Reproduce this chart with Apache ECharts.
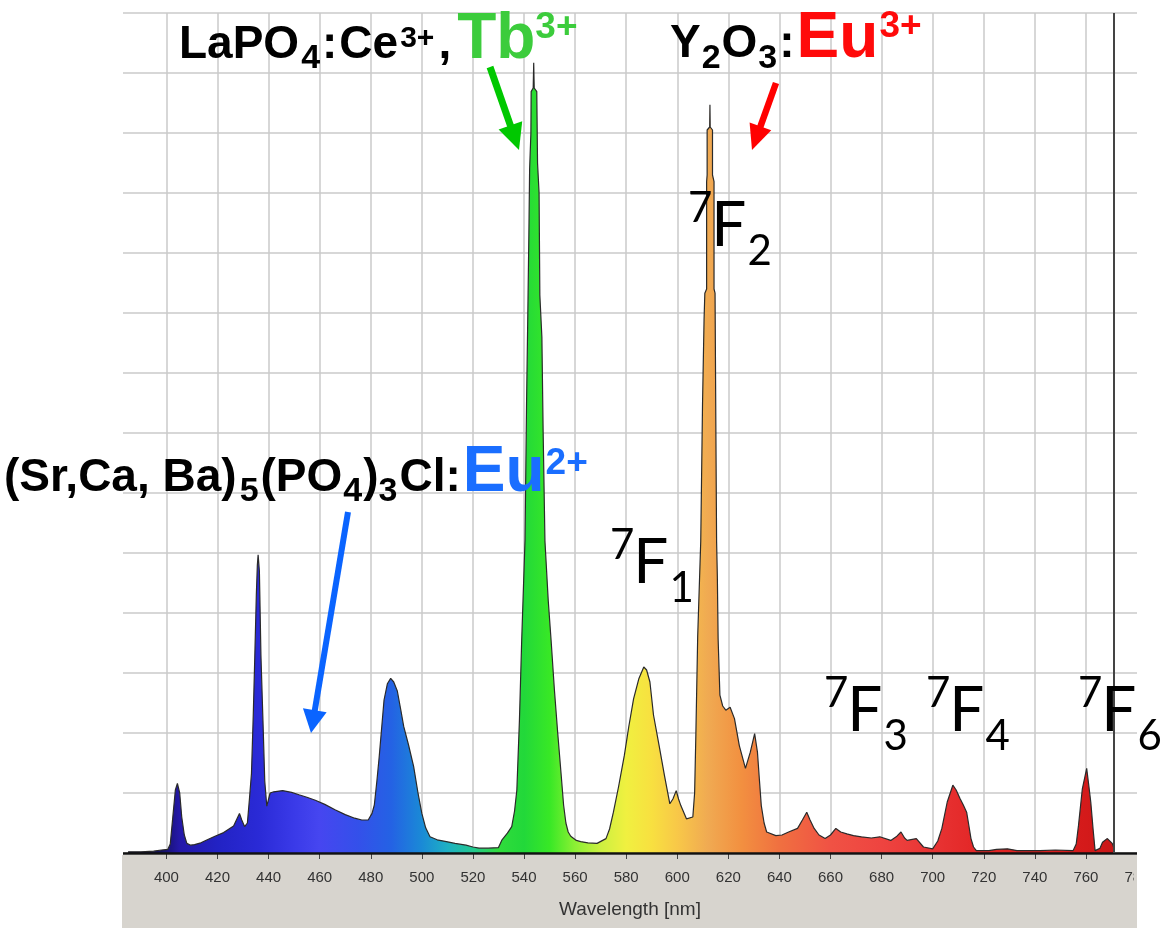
<!DOCTYPE html>
<html>
<head>
<meta charset="utf-8">
<script src="https://cdn.jsdelivr.net/npm/echarts@6/dist/echarts.min.js"></script>
<style>
  html, body { margin: 0; padding: 0; background: #ffffff; }
  #chart { width: 1162px; height: 928px; }
</style>
</head>
<body>
<div id="chart"></div>
<script>
// ---------------- DATA ----------------
// wavelength (nm)
const wavelengths = [
  385, 390, 395, 398, 400.5, 401.5, 402.5, 403.5, 404.3, 405.2, 406, 407, 408, 409.5, 411, 413.5, 416, 419, 422.4, 426.3,
  428.6, 429.5, 430.6, 431.7, 432.5, 433.3, 434.0, 434.6, 435.2, 435.6, 435.9, 436.4, 437.0, 437.8, 438.5, 439.3, 440.0, 440.6,
  442, 445.5, 449, 451.9, 455, 458.3, 462, 466, 470, 473.7, 476.5, 479, 480.5, 481.4, 482.4, 483.3, 484.3, 485.2, 486.5, 487.8,
  489, 490.4, 491.7, 492.9, 494.8, 496.8, 498.5, 500, 501.5, 503.2, 506, 509.6, 513, 517.3, 520, 522.4, 526, 530,
  531.4, 533.5, 535.2, 536.3, 537.2, 538.2, 539.1, 540.4, 541.0, 541.5, 541.9, 542.2, 542.7, 542.8, 543.6, 543.8, 544.0, 545.0,
  545.3, 545.9, 546.2, 547.0, 547.5, 548.2, 549.5, 550.6, 551.9, 553.2, 554.5, 555.5, 556.4, 557.3, 558.3, 560.5, 562.2, 565,
  568.6, 572.1, 573.5, 575, 577, 579.3, 581, 582.9, 585, 586.9, 588, 589.3, 590.7, 592.9, 595, 597.1, 598.3, 599.6,
  600.5, 601.4, 603.6, 606.1, 606.8, 607.3, 608.0, 609.2, 609.9, 610.5, 610.8, 611.5, 611.5, 611.7, 611.7, 612.7, 612.8, 612.9,
  613.8, 613.8, 614.4, 614.4, 614.8, 615.1, 615.4, 615.7, 616.0, 616.7, 617.8, 619, 620.7, 622.4, 624.3, 626.7, 628.6, 630.3,
  631.4, 632.2, 632.9, 634, 635, 638.6, 641, 643.6, 647.1, 649, 650.7, 652, 653.6, 655.5, 657.9, 660, 662.1, 664,
  666.4, 669, 672.1, 676, 679.3, 683.6, 686, 687.6, 689, 690, 693.6, 696.4, 700, 702, 703.6, 705.7, 707.9, 709.2,
  710.7, 712, 713.3, 714.2, 715, 716, 717.1, 722, 725, 729.3, 733, 742, 748, 755, 756.2, 757.1, 758.6, 760.3,
  761.2, 761.9, 762.8, 763.6, 765.5, 766.5, 768.4, 770.3, 771
];
// relative intensity (1 unit = one horizontal grid division)
const intensity = [
  0.02, 0.02, 0.03, 0.05, 0.06, 0.15, 0.6, 1.05, 1.16, 1.0, 0.6, 0.3, 0.16, 0.13, 0.14, 0.17, 0.22, 0.28, 0.34, 0.45,
  0.66, 0.55, 0.44, 0.5, 0.9, 1.33, 2.3, 3.27, 4.3, 4.8, 4.97, 4.7, 3.3, 2.2, 1.2, 0.78, 0.8, 1.0,
  1.02, 1.04, 1.01, 0.97, 0.93, 0.88, 0.81, 0.72, 0.64, 0.58, 0.55, 0.55, 0.66, 0.8, 1.2, 1.6, 2.1, 2.55, 2.82, 2.91,
  2.85, 2.7, 2.4, 2.11, 1.8, 1.44, 1.0, 0.66, 0.42, 0.27, 0.22, 0.19, 0.16, 0.13, 0.1, 0.08, 0.08, 0.09,
  0.22, 0.33, 0.44, 0.7, 1.05, 2.2, 3.55, 5.22, 7.5, 9.0, 10.3, 11.4, 12.0, 12.69, 12.75, 13.17, 12.75, 12.69,
  11.5, 11.0, 9.3, 8.6, 7.0, 5.2, 4.2, 3.55, 2.72, 2.0, 1.33, 0.8, 0.5, 0.35, 0.28, 0.21, 0.19, 0.17,
  0.16, 0.24, 0.4, 0.68, 1.1, 1.63, 2.1, 2.57, 2.91, 3.1, 3.05, 2.85, 2.3, 1.79, 1.29, 0.82, 0.9, 1.04,
  0.9, 0.79, 0.57, 0.6, 1.0, 2.0, 3.6, 5.2, 7.5, 8.9, 9.33, 9.4, 11.19, 11.3, 12.05, 12.1, 12.47, 12.1,
  12.05, 11.3, 11.19, 9.4, 9.33, 7.2, 5.2, 4.6, 3.57, 2.63, 2.45, 2.38, 2.43, 2.24, 1.79, 1.41, 1.68, 1.99,
  1.68, 1.2, 0.79, 0.5, 0.35, 0.29, 0.3, 0.35, 0.41, 0.55, 0.68, 0.55, 0.41, 0.3, 0.24, 0.3, 0.41, 0.35,
  0.32, 0.29, 0.27, 0.25, 0.27, 0.21, 0.28, 0.35, 0.25, 0.21, 0.24, 0.1, 0.07, 0.2, 0.41, 0.85, 1.13, 1.05,
  0.91, 0.8, 0.68, 0.45, 0.24, 0.1, 0.04, 0.04, 0.06, 0.07, 0.04, 0.04, 0.05, 0.04, 0.15, 0.46, 1.07, 1.41,
  1.1, 0.85, 0.4, 0.04, 0.08, 0.18, 0.24, 0.16, 0.08
];
// x tick labels
const xTickValues = [400, 420, 440, 460, 480, 500, 520, 540, 560, 580, 600, 620, 640, 660, 680, 700, 720, 740, 760];
const xLabelValues = xTickValues.concat([780]);
// colour of the spectrum at given wavelengths
const colorWavelengths = [385, 398, 405, 420, 436, 450, 460, 475, 488, 500, 510, 520, 530, 540, 550, 560, 570, 580, 590, 600, 612, 625, 640, 660, 680, 700, 720, 760, 771];
const colorValues = ['#0c0c40', '#141060', '#2418a8', '#2222c4', '#2a2ad6', '#3a3ae8', '#4646f0', '#3450ea', '#2462e4', '#1a8ad6', '#1eb0c4', '#22c890', '#30dc3c', '#22d83a', '#38e826', '#8cf034', '#ccf040', '#f0f040', '#f8e040', '#f8c848', '#f0aa52', '#f29040', '#f07040', '#f05244', '#ee4440', '#e83434', '#e22424', '#d41a1a', '#c81818'];
const endMarker = 771;

// ---------------- CHART ----------------
const chart = echarts.init(document.getElementById('chart'), null, { renderer: 'canvas' });

const lmin = wavelengths[0], lmax = wavelengths[wavelengths.length - 1];
const stops = colorWavelengths.map((w, i) => ({ offset: Math.min(1, Math.max(0, (w - lmin) / (lmax - lmin))), color: colorValues[i] }));

const measureCtx = document.createElement('canvas').getContext('2d');
function runs(x0, items) {
  const out = [];
  let x = x0;
  for (const it of items) {
    const fam = it.family || '"Liberation Sans", Arial, sans-serif';
    const font = (it.weight || 'bold') + ' ' + it.size + 'px ' + fam;
    measureCtx.font = font;
    measureCtx.textBaseline = 'middle';
    const w = measureCtx.measureText(it.t).width;
    const off = measureCtx.measureText('H').actualBoundingBoxDescent;
    x += (it.dx || 0);
    out.push({
      type: 'text', x: x, y: it.base - off, z: 50, silent: true,
      style: { text: it.t, font: font, fill: it.color || '#000', align: 'left', verticalAlign: 'middle', textAlign: 'left', textVerticalAlign: 'middle' }
    });
    x += w;
  }
  return out;
}
function arrow(x1, y1, x2, y2, color, w, hl, hw) {
  const dx = x2 - x1, dy = y2 - y1, L = Math.sqrt(dx * dx + dy * dy);
  const ux = dx / L, uy = dy / L, px = -uy, py = ux;
  const bx = x2 - ux * hl, by = y2 - uy * hl;
  return [
    { type: 'line', z: 40, silent: true, shape: { x1: x1, y1: y1, x2: bx + ux * 2, y2: by + uy * 2 }, style: { stroke: color, lineWidth: w } },
    { type: 'polygon', z: 40, silent: true, shape: { points: [[x2, y2], [bx + px * hw / 2, by + py * hw / 2], [bx - px * hw / 2, by - py * hw / 2]] }, style: { fill: color } }
  ];
}
const B = 46, SUB = 34, BIG = 64, SUP = 37;
const GREEN = '#3ccc3c', RED = '#ff0a0a', BLUE = '#1a6eff';
const LATO = 'Lato, "Open Sans", sans-serif';
function term(x, fBase, sub) {
  return runs(x, [
    { t: '7', size: 42, weight: 'normal', family: LATO, base: fBase - 24 },
    { t: 'F', size: 62, weight: 'normal', family: LATO, base: fBase, dx: -1 },
    { t: sub, size: 42, weight: 'normal', family: LATO, base: fBase + 19, dx: 1 }
  ]);
}

let graphics = [
  { type: 'rect', z: -10, silent: true, shape: { x: 122, y: 855, width: 1015, height: 73 }, style: { fill: '#d7d4ce' } },
  { type: 'rect', z: 100, silent: true, shape: { x: 1134, y: 855, width: 30, height: 73 }, style: { fill: '#ffffff' } },
  { type: 'rect', z: 100, silent: true, shape: { x: 1134, y: 855, width: 3, height: 73 }, style: { fill: '#d7d4ce' } }
];
graphics = graphics.concat(runs(179, [
  { t: 'LaPO', size: B, base: 58 },
  { t: '4', size: SUB, base: 68, dx: 2 },
  { t: ':', size: B, base: 58, dx: 2 },
  { t: 'Ce', size: B, base: 58, dx: 2 },
  { t: '3+', size: 30, base: 47, dx: 2 },
  { t: ',', size: B, base: 58, dx: 4 },
  { t: 'Tb', size: BIG, base: 58, color: GREEN, dx: 6 },
  { t: '3+', size: SUP, base: 38, color: GREEN, dx: 0 }
]));
graphics = graphics.concat(runs(670, [
  { t: 'Y', size: B, base: 57 },
  { t: '2', size: SUB, base: 68, dx: 1 },
  { t: 'O', size: B, base: 57, dx: 1 },
  { t: '3', size: SUB, base: 68, dx: 1 },
  { t: ':', size: B, base: 57, dx: 2 },
  { t: 'Eu', size: BIG, base: 57, color: RED, dx: 2 },
  { t: '3+', size: SUP, base: 37, color: RED, dx: 1 }
]));
graphics = graphics.concat(runs(4, [
  { t: '(Sr,Ca, Ba)', size: B, base: 491 },
  { t: '5', size: SUB, base: 501, dx: 3 },
  { t: '(PO', size: B, base: 491, dx: 2 },
  { t: '4', size: SUB, base: 501, dx: 1 },
  { t: ')', size: B, base: 491, dx: 1 },
  { t: '3', size: SUB, base: 501, dx: 0 },
  { t: 'Cl:', size: B, base: 491, dx: 2 },
  { t: 'Eu', size: BIG, base: 491, color: BLUE, dx: 2 },
  { t: '2+', size: SUP, base: 474, color: BLUE, dx: 1 }
]));
graphics = graphics.concat(term(688, 246, '2'));
graphics = graphics.concat(term(610, 583, '1'));
graphics = graphics.concat(term(824, 731, '3'));
graphics = graphics.concat(term(926, 731, '4'));
graphics = graphics.concat(term(1078, 731, '6'));
graphics = graphics.concat(arrow(490, 67, 519, 150, '#00c800', 7, 26, 25));
graphics = graphics.concat(arrow(776, 83, 752, 150, '#ff0000', 6.5, 25, 23));
graphics = graphics.concat(arrow(348, 512, 311, 733, '#0a64ff', 6, 23, 24));

const option = {
  animation: false,
  backgroundColor: '#ffffff',
  grid: { left: 123, right: 25, top: 13, bottom: 75, containLabel: false },
  xAxis: {
    type: 'value', min: 383, max: 780, offset: 5,
    axisLine: { show: false },
    axisTick: { show: true, length: 6, customValues: xTickValues, lineStyle: { color: '#444', width: 1 } },
    axisLabel: { customValues: xLabelValues, margin: 12, fontSize: 15, color: '#333', fontFamily: '"Liberation Sans", Arial, sans-serif', showMinLabel: true, showMaxLabel: true, hideOverlap: false },
    splitLine: { show: true, lineStyle: { color: '#cacaca', width: 1.5 } },
    name: 'Wavelength [nm]', nameLocation: 'middle', nameGap: 42,
    nameTextStyle: { fontSize: 19, color: '#333', fontFamily: '"Liberation Sans", Arial, sans-serif' }
  },
  yAxis: {
    type: 'value', min: 0, max: 14, interval: 1,
    axisLine: { show: false }, axisTick: { show: false }, axisLabel: { show: false },
    splitLine: { show: true, lineStyle: { color: '#cacaca', width: 1.5 } }
  },
  series: [{
    type: 'line',
    data: wavelengths.map((w, i) => [w, intensity[i]]),
    showSymbol: false, symbol: 'none', smooth: false, z: 3,
    lineStyle: { color: '#2a2a2a', width: 1.2 },
    areaStyle: { opacity: 1, color: new echarts.graphic.LinearGradient(0, 0, 1, 0, stops) },
    markLine: {
      silent: true, symbol: 'none', label: { show: false },
      data: [
        { yAxis: 0, lineStyle: { color: '#111', width: 2.5, type: 'solid' } },
        { xAxis: endMarker, lineStyle: { color: '#444', width: 2, type: 'solid' } }
      ]
    }
  }],
  graphic: { elements: graphics }
};
chart.setOption(option);
</script>
</body>
</html>
